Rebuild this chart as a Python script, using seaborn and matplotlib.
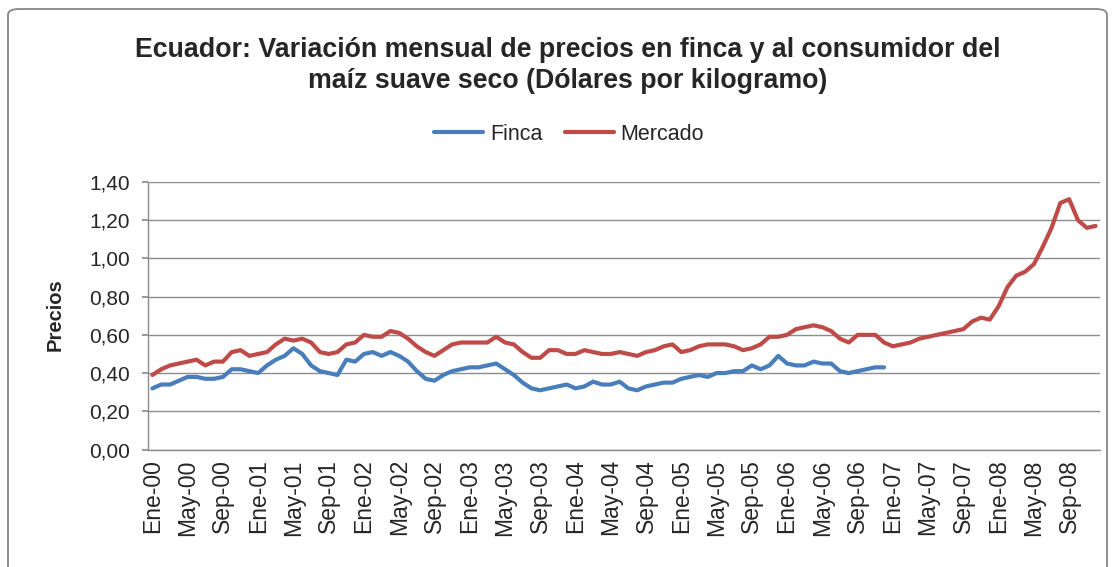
import numpy as np
import pandas as pd
import matplotlib
matplotlib.use("Agg")
import matplotlib.pyplot as plt
from matplotlib.patches import FancyBboxPatch
from matplotlib.ticker import FuncFormatter, FixedLocator
from matplotlib.lines import Line2D
import seaborn as sns

# Monthly prices, Jan 2000 - Dec 2008 (USD per kg)
meses_abrev = ["Ene", "Feb", "Mar", "Abr", "May", "Jun",
               "Jul", "Ago", "Sep", "Oct", "Nov", "Dic"]
anios = ["00", "01", "02", "03", "04", "05", "06", "07", "08"]

mercado = [
    0.39, 0.42, 0.44, 0.45, 0.46, 0.47, 0.44, 0.46, 0.46, 0.51, 0.52, 0.49,  # 2000
    0.50, 0.51, 0.55, 0.58, 0.57, 0.58, 0.56, 0.51, 0.50, 0.51, 0.55, 0.56,  # 2001
    0.60, 0.59, 0.59, 0.62, 0.61, 0.58, 0.54, 0.51, 0.49, 0.52, 0.55, 0.56,  # 2002
    0.56, 0.56, 0.56, 0.59, 0.56, 0.55, 0.51, 0.48, 0.48, 0.52, 0.52, 0.50,  # 2003
    0.50, 0.52, 0.51, 0.50, 0.50, 0.51, 0.50, 0.49, 0.51, 0.52, 0.54, 0.55,  # 2004
    0.51, 0.52, 0.54, 0.55, 0.55, 0.55, 0.54, 0.52, 0.53, 0.55, 0.59, 0.59,  # 2005
    0.60, 0.63, 0.64, 0.65, 0.64, 0.62, 0.58, 0.56, 0.60, 0.60, 0.60, 0.56,  # 2006
    0.54, 0.55, 0.56, 0.58, 0.59, 0.60, 0.61, 0.62, 0.63, 0.67, 0.69, 0.68,  # 2007
    0.75, 0.85, 0.91, 0.93, 0.97, 1.06, 1.16, 1.29, 1.31, 1.20, 1.16, 1.17,  # 2008
]

finca = [
    0.32, 0.34, 0.34, 0.36, 0.38, 0.38, 0.37, 0.37, 0.38, 0.42, 0.42, 0.41,  # 2000
    0.40, 0.44, 0.47, 0.49, 0.53, 0.50, 0.44, 0.41, 0.40, 0.39, 0.47, 0.46,  # 2001
    0.50, 0.51, 0.49, 0.51, 0.49, 0.46, 0.41, 0.37, 0.36, 0.39, 0.41, 0.42,  # 2002
    0.43, 0.43, 0.44, 0.45, 0.42, 0.39, 0.35, 0.32, 0.31, 0.32, 0.33, 0.34,  # 2003
    0.32, 0.33, 0.355, 0.34, 0.34, 0.355, 0.32, 0.31, 0.33, 0.34, 0.35, 0.35,  # 2004
    0.37, 0.38, 0.39, 0.38, 0.40, 0.40, 0.41, 0.41, 0.44, 0.42, 0.44, 0.49,  # 2005
    0.45, 0.44, 0.44, 0.46, 0.45, 0.45, 0.41, 0.40, 0.41, 0.42, 0.43, 0.43,  # 2006
]

etiquetas = [f"{m}-{a}" for a in anios for m in meses_abrev]
n = len(etiquetas)

df = pd.concat([
    pd.DataFrame({"mes": np.arange(len(finca)), "precio": finca, "serie": "Finca"}),
    pd.DataFrame({"mes": np.arange(len(mercado)), "precio": mercado, "serie": "Mercado"}),
], ignore_index=True)

sns.set_theme(style="white")
plt.rcParams["font.family"] = ["Liberation Sans", "DejaVu Sans"]

fig = plt.figure(figsize=(11.14, 5.67), dpi=100)
ax = fig.add_axes([148 / 1114, 1 - 449.5 / 567, (1100 - 148) / 1114, (449.5 - 182) / 567])

colores = {"Finca": "#4A7EBB", "Mercado": "#BE4B48"}
lw = 3.0
sns.lineplot(data=df, x="mes", y="precio", hue="serie", palette=colores,
             linewidth=lw, ax=ax, legend=False, solid_capstyle="round",
             solid_joinstyle="round")

ax.set_xlim(-0.5, n - 0.5)
ax.set_ylim(0, 1.4)
ax.yaxis.set_major_locator(FixedLocator(np.arange(0, 1.41, 0.2)))
ax.yaxis.set_major_formatter(FuncFormatter(lambda v, p: f"{v:.2f}".replace(".", ",")))
ax.grid(axis="y", color="#8C8C8C", linewidth=1.0)
ax.set_axisbelow(True)

pos = np.arange(0, n, 4)
ax.set_xticks(pos)
ax.set_xticklabels([etiquetas[i] for i in pos], rotation=90, fontsize=16.5)
ax.tick_params(axis="y", labelsize=15, length=4, color="#8C8C8C", direction="out", left=True, pad=9)
ax.tick_params(axis="x", length=0, pad=7)

for s in ["top", "right"]:
    ax.spines[s].set_visible(False)
for s in ["left", "bottom"]:
    ax.spines[s].set_color("#8C8C8C")
    ax.spines[s].set_linewidth(1.0)

ax.set_xlabel("")
ax.set_ylabel("")
fig.text(55 / 1114, 1 - 315 / 567, "Precios", rotation=90, ha="center", va="center",
         fontsize=14.5, fontweight="bold")

fig.text(0.51, 1 - 50 / 567, "Ecuador: Variación mensual de precios en finca y al consumidor del",
         ha="center", va="center", fontsize=19.3, fontweight="bold")
fig.text(0.51, 1 - 81 / 567, "maíz suave seco (Dólares por kilogramo)",
         ha="center", va="center", fontsize=19.3, fontweight="bold")

# Legend drawn above the plot area
handles = [Line2D([], [], color=colores[k], linewidth=lw) for k in ["Finca", "Mercado"]]
fig.legend(handles, ["Finca", "Mercado"], loc="center", bbox_to_anchor=(569 / 1114, 1 - 134 / 567),
           ncol=2, frameon=False, fontsize=15.5, handlelength=2.3, columnspacing=1.05,
           handletextpad=0.3)

# Chart border
borde = FancyBboxPatch((8 / 1114, -0.05), 1099 / 1114, 1 - 9 / 567 + 0.05,
                       boxstyle="round,pad=0,rounding_size=0.01", transform=fig.transFigure,
                       fill=False, edgecolor="#868686", linewidth=1.3)
fig.patches.append(borde)

fig.savefig("out.png", dpi=100, facecolor="white")
